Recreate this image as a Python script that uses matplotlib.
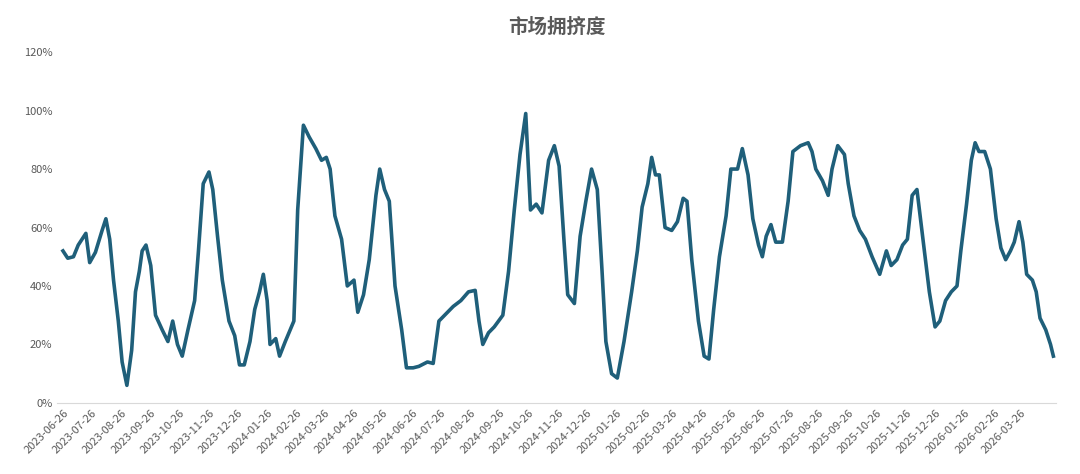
import matplotlib
matplotlib.use("Agg")
import matplotlib.pyplot as plt
import matplotlib.dates as mdates
import pandas as pd

plt.rcParams['font.family'] = ['Noto Sans CJK SC', 'DejaVu Sans']

start = "2023-06-26"
days = [0,5,11,16,24,28,34,41,45,49,53,58,62,67,72,76,80,83,87,92,97,104,110,115,120,125,131,138,142,147,153,157,162,167,174,180,185,190,196,201,206,210,214,217,223,227,233,242,246,252,258,265,271,276,280,285,292,298,305,309,315,321,328,332,337,342,348,355,360,367,373,382,388,394,400,409,417,425,432,436,440,446,452,461,467,473,479,485,490,496,502,509,515,520,525,529,536,542,548,554,560,565,569,575,581,588,596,602,607,613,617,621,625,631,638,644,650,654,659,666,672,677,682,688,695,700,707,712,718,723,729,733,737,742,747,754,760,765,773,781,785,789,796,802,806,812,819,823,829,835,841,848,856,863,868,874,880,885,890,895,902,908,914,919,925,931,937,941,947,952,956,960,966,972,978,983,988,993,997,1002,1006,1010,1016,1020,1024,1030,1035,1038]
values = [52,49.5,50,54,58,48,51.5,59,63,56,42,28,14,6,18,38,45,52,54,47,30,25,21,28,20,16,25,35,52,75,79,73,57,42,28,23,13,13,21,32,38,44,35,20,22,16,21,28,66,95,91,87,83,84,80,64,56,40,42,31,37,49,71,80,73,69,40,25,12,12,12.5,14,13.5,28,30,33,35,38,38.5,28,20,24,26,30,45,66,85,99,66,68,65,83,88,81,56,37,34,57,69,80,73,45,21,10,8.5,21,38,52,67,75,84,78,78,60,59,62,70,69,49,28,16,15,32,50,64,80,80,87,78,63,54,50,57,61,55,55,69,86,88,89,86,80,76,71,80,88,85,75,64,59,56,50,44,52,47,49,54,56,71,73,54,38,26,28,35,38,40,52,68,83,89,86,86,80,63,53,49,52,55,62,55,44,42,38,29,25,20,16]

dates = pd.Timestamp(start) + pd.to_timedelta(days, unit="D")
ticks = pd.date_range("2023-06-26", "2026-03-26", freq=pd.DateOffset(months=1))

fig, ax = plt.subplots(figsize=(10.8, 4.74), dpi=100)
fig.subplots_adjust(left=0.053, right=0.978, top=0.89, bottom=0.15)
ax.plot(dates, [v / 100 for v in values], color="#1f5f7a", lw=2.6)
ax.set_title("市场拥挤度", fontsize=14, fontweight="bold", color="#595959", pad=14)
ax.set_ylim(0, 1.2)
ax.set_yticks([i / 10 for i in range(0, 13, 2)])
ax.set_yticklabels([f"{i*10}%" for i in range(0, 13, 2)])
ax.set_xlim(pd.Timestamp("2023-06-20"), dates[-1] + pd.Timedelta(days=3))
ax.set_xticks(ticks)
ax.set_xticklabels([t.strftime("%Y-%m-%d") for t in ticks], rotation=45, ha="right", rotation_mode="anchor")
ax.tick_params(axis="both", labelsize=8, colors="#595959", length=0)
for s in ["top", "right", "left"]:
    ax.spines[s].set_visible(False)
ax.spines["bottom"].set_color("#d9d9d9")
fig.savefig("out.png", dpi=100)
